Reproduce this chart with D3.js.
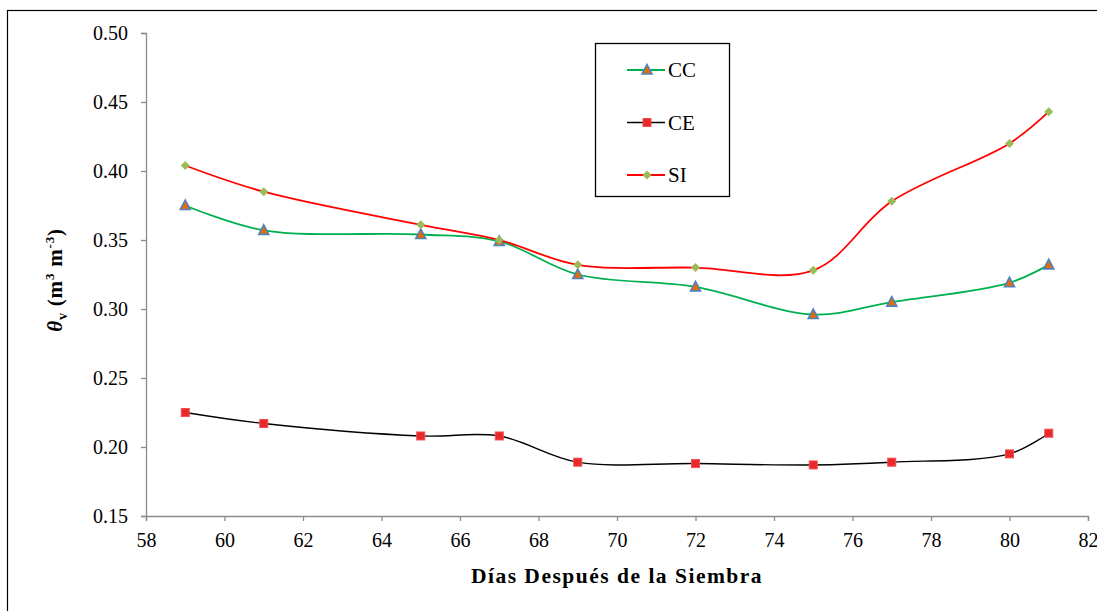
<!DOCTYPE html>
<html>
<head>
<meta charset="utf-8">
<script src="https://cdn.jsdelivr.net/npm/d3@7"></script>
<style>
  body { margin: 0; background: #fff; }
  svg text { font-family: "Liberation Serif", "Times New Roman", Times, "DejaVu Serif", serif; }
</style>
</head>
<body>
<div id="chart"></div>
<script>
// días después de la siembra
const days = [59, 61, 65, 67, 69, 72, 75, 77, 80, 81]
const cc = [0.375, 0.357, 0.354, 0.349, 0.325, 0.316, 0.296, 0.305, 0.319, 0.332]
const ce = [0.225, 0.217, 0.208, 0.208, 0.189, 0.188, 0.187, 0.189, 0.195, 0.210]
const si = [0.404, 0.385, 0.361, 0.350, 0.332, 0.330, 0.328, 0.378, 0.420, 0.443]
const xTicks = d3.range(58, 83, 2)
const yTicks = [0.15, 0.20, 0.25, 0.30, 0.35, 0.40, 0.45, 0.50]

const width = 1097, height = 611
const margin = { top: 33, right: 9, bottom: 95, left: 146 }
const serif = '"Liberation Serif", "Times New Roman", Times, "DejaVu Serif", serif'

const svg = d3.select('#chart').append('svg')
  .attr('width', width)
  .attr('height', height)
  .attr('font-family', serif)

// outer frame
svg.append('rect')
  .attr('x', 7.5).attr('y', 10.5)
  .attr('width', width).attr('height', height)
  .attr('fill', 'none').attr('stroke', '#000').attr('stroke-width', 1.2)

const x = d3.scaleLinear().domain([58, 82]).range([margin.left, width - margin.right])
const y = d3.scaleLinear().domain([0.15, 0.50]).range([height - margin.bottom, margin.top])

const axisColor = '#8c8c8c'

const xAxis = svg.append('g')
  .attr('transform', `translate(0,${y(0.15)})`)
  .call(d3.axisBottom(x).tickValues(xTicks).tickSize(5).tickPadding(12).tickFormat(d3.format('d')))
const yAxis = svg.append('g')
  .attr('transform', `translate(${x(58)},0)`)
  .call(d3.axisLeft(y).tickValues(yTicks).tickSize(5).tickPadding(13).tickFormat(d3.format('.2f')))

;[xAxis, yAxis].forEach(a => {
  a.attr('font-family', serif).attr('font-size', 20)
  a.select('.domain').attr('stroke', axisColor).attr('stroke-width', 1.3)
  a.selectAll('.tick line').attr('stroke', axisColor).attr('stroke-width', 1.3)
  a.selectAll('.tick text').attr('fill', '#000')
})

// axis titles
svg.append('text')
  .attr('x', 617).attr('y', 583)
  .attr('text-anchor', 'middle')
  .attr('font-weight', 'bold').attr('font-size', 21.5)
  .attr('letter-spacing', 1.5)
  .text('Días Después de la Siembra')

const yTitle = svg.append('text')
  .attr('transform', 'translate(62,280) rotate(-90)')
  .attr('text-anchor', 'middle')
  .attr('font-weight', 'bold').attr('font-size', 21)
  .attr('letter-spacing', 0.8)
yTitle.append('tspan').attr('font-style', 'italic').text('θ')
yTitle.append('tspan').attr('dy', 5).attr('font-size', 14).text('v')
yTitle.append('tspan').attr('dy', -5).text(' (m')
yTitle.append('tspan').attr('dy', -8).attr('font-size', 13).text('3')
yTitle.append('tspan').attr('dy', 8).text(' m')
yTitle.append('tspan').attr('dy', -8).attr('font-size', 13).text('-3')
yTitle.append('tspan').attr('dy', 8).text(')')

// marker shapes
const drawMarker = (g, kind) => {
  if (kind === 'triangle') {
    g.append('path').attr('d', 'M0,-5.5L5,4L-5,4Z')
      .attr('fill', '#E36C09').attr('stroke', '#4F81BD').attr('stroke-width', 1.6)
  } else if (kind === 'square') {
    g.append('rect').attr('x', -4).attr('y', -4).attr('width', 8).attr('height', 8)
      .attr('fill', '#E8282B').attr('stroke', '#F05050').attr('stroke-width', 1)
  } else {
    g.append('path').attr('d', 'M0,-4.5L4.5,0L0,4.5L-4.5,0Z')
      .attr('fill', '#9BBB59')
  }
}

const series = [
  { name: 'CC', values: cc, line: '#00B050', marker: 'triangle' },
  { name: 'CE', values: ce, line: '#000000', marker: 'square' },
  { name: 'SI', values: si, line: '#FF0000', marker: 'diamond' }
]

const line = d3.line()
  .x(d => x(d[0]))
  .y(d => y(d[1]))
  .curve(d3.curveCatmullRom.alpha(0.5))

series.forEach(s => {
  const pts = days.map((d, i) => [d, s.values[i]])
  svg.append('path')
    .datum(pts)
    .attr('fill', 'none')
    .attr('stroke', s.line)
    .attr('stroke-width', s.name === 'CE' ? 1.4 : 1.8)
    .attr('d', line)
  pts.forEach(p => {
    const g = svg.append('g').attr('transform', `translate(${x(p[0])},${y(p[1])})`)
    drawMarker(g, s.marker)
  })
})

// legend
const legend = svg.append('g')
svg.append('rect')
  .attr('x', 595.5).attr('y', 43.5).attr('width', 134).attr('height', 153)
  .attr('fill', 'none').attr('stroke', '#000').attr('stroke-width', 1.3)
series.forEach((s, i) => {
  const ly = 70 + i * 52.5
  legend.append('line')
    .attr('x1', 627).attr('x2', 665).attr('y1', ly).attr('y2', ly)
    .attr('stroke', s.line).attr('stroke-width', s.name === 'CE' ? 1.4 : 1.8)
  drawMarker(legend.append('g').attr('transform', `translate(647,${ly})`), s.marker)
  legend.append('text')
    .attr('x', 668).attr('y', ly + 7)
    .attr('font-size', 21)
    .text(s.name)
})
</script>
</body>
</html>
